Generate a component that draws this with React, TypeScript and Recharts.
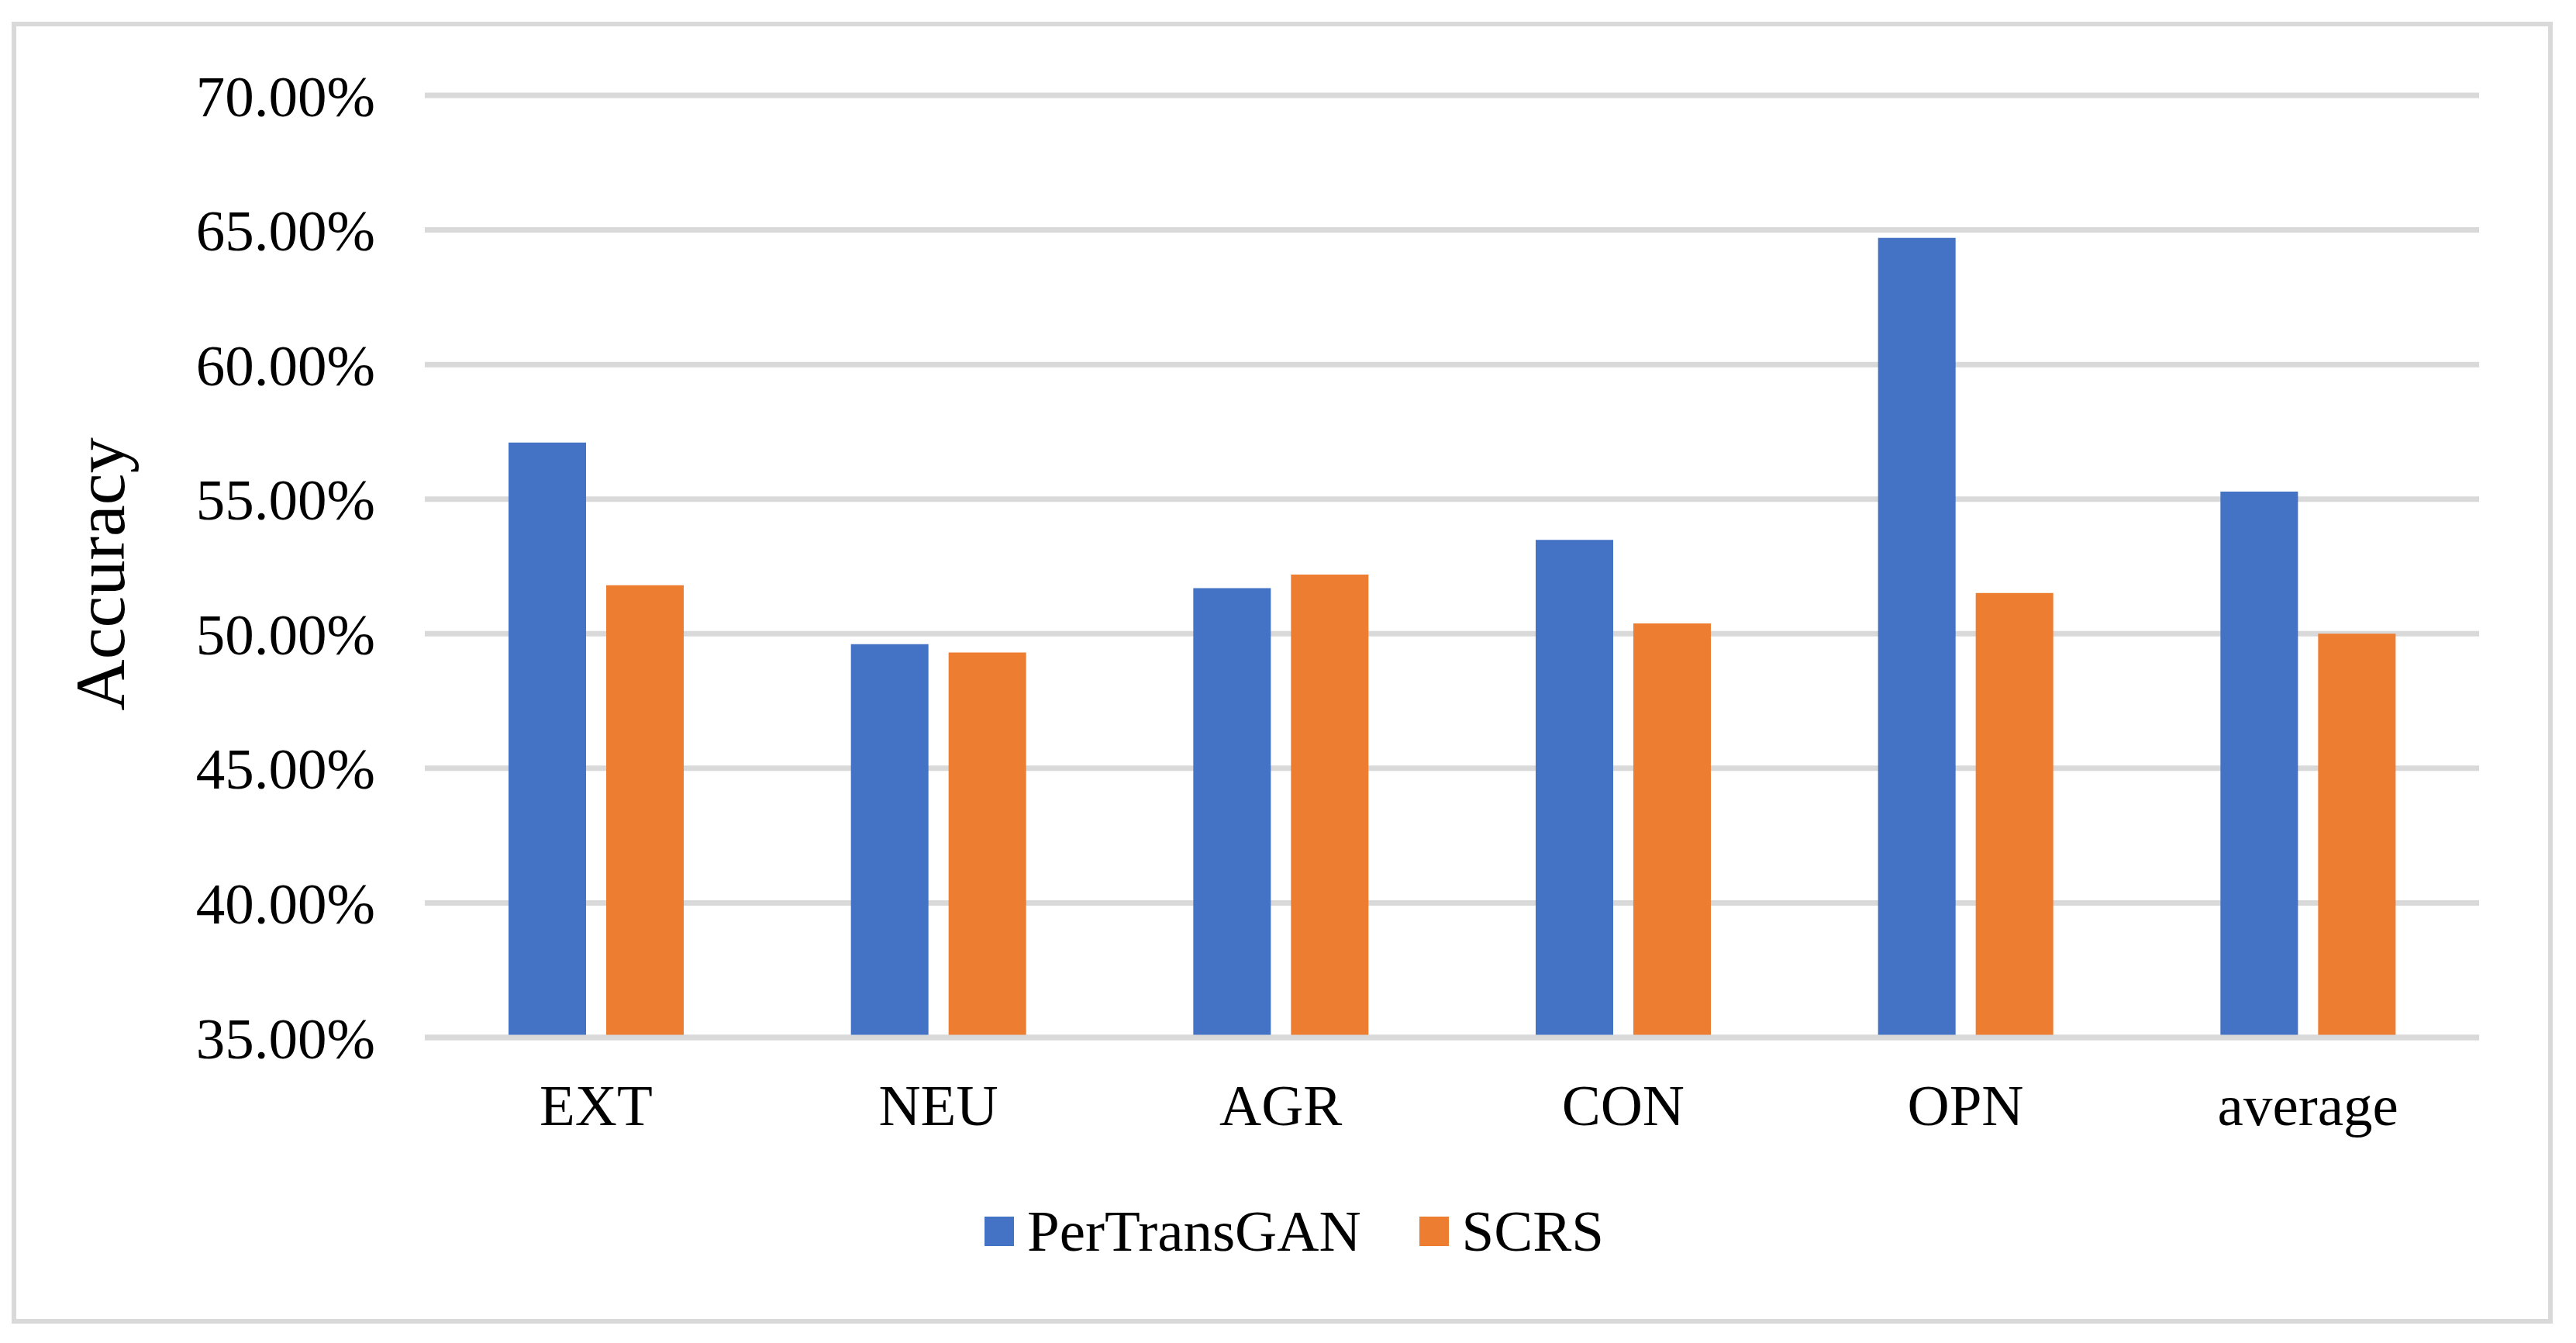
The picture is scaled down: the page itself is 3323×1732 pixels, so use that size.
import React from 'react';
import { BarChart, Bar, XAxis, YAxis, CartesianGrid, Legend, Label } from 'recharts';

const categories = ['EXT', 'NEU', 'AGR', 'CON', 'OPN', 'average'];
const perTransGAN = [57.1, 49.61, 51.69, 53.49, 64.71, 55.28];
const scrs = [51.8, 49.3, 52.2, 50.38, 51.51, 50.0];
const yTicks = [35, 40, 45, 50, 55, 60, 65, 70];
const seriesNames = ['PerTransGAN', 'SCRS'];
const seriesColors = ['#4472C4', '#ED7D31'];

const data = categories.map((c, i) => ({
  category: c,
  [seriesNames[0]]: perTransGAN[i],
  [seriesNames[1]]: scrs[i],
}));

const FONT = '"Liberation Serif", "Times New Roman", serif';
const GRID = '#d9d9d9';

const renderLegend = (props: any) => {
  const { payload } = props;
  return (
    <div
      style={{
        display: 'flex',
        alignItems: 'center',
        fontFamily: FONT,
        fontSize: 75,
        lineHeight: '86px',
        color: '#000',
        whiteSpace: 'nowrap',
      }}
    >
      {(payload || []).map((e: any, i: number) => (
        <div key={i} style={{ display: 'flex', alignItems: 'center', marginLeft: i ? 75 : 0 }}>
          <span style={{ display: 'inline-block', width: 38, height: 38, background: e.color, marginRight: 17 }} />
          <span>{e.value}</span>
        </div>
      ))}
    </div>
  );
};

export default function App() {
  return (
    <div style={{ position: 'absolute', left: 0, top: 0, width: 3323, height: 1732, background: '#fff' }}>
      <div
        style={{
          position: 'absolute',
          left: 15,
          top: 28,
          width: 3278,
          height: 1679,
          boxSizing: 'border-box',
          border: `6.5px solid ${GRID}`,
        }}
      />
      <div style={{ position: 'absolute', left: 0, top: 0 }}>
        <BarChart
          width={3323}
          height={1732}
          data={data}
          margin={{ top: 123, right: 125, bottom: 364, left: 0 }}
          barGap={26}
        >
          <CartesianGrid vertical={false} stroke={GRID} strokeWidth={7} />
          <YAxis
            type="number"
            domain={[35, 70]}
            ticks={yTicks}
            interval={0}
            width={548}
            axisLine={false}
            tickLine={false}
            tickSize={0}
            tickMargin={64}
            tickFormatter={(v: number) => `${v.toFixed(2)}%`}
            tick={{ fontFamily: FONT, fontSize: 75, fill: '#000' }}
          >
            <Label
              content={(p: any) => {
                const vb = p.viewBox || { x: 0, y: 123, width: 548, height: 1215 };
                const x = vb.x + 160;
                const y = vb.y + vb.height / 2 + 10;
                return (
                  <text
                    x={x}
                    y={y}
                    textAnchor="middle"
                    transform={`rotate(-90, ${x}, ${y})`}
                    style={{ fontFamily: FONT, fontSize: 92, fill: '#000' }}
                  >
                    Accuracy
                  </text>
                );
              }}
            />
          </YAxis>
          <Bar dataKey={seriesNames[0]} fill={seriesColors[0]} barSize={100} isAnimationActive={false} />
          <Bar dataKey={seriesNames[1]} fill={seriesColors[1]} barSize={100} isAnimationActive={false} />
          <XAxis
            dataKey="category"
            height={30}
            interval={0}
            tickLine={false}
            tickSize={0}
            tickMargin={60}
            axisLine={{ stroke: GRID, strokeWidth: 7 }}
            tick={{ fontFamily: FONT, fontSize: 75, fill: '#000' }}
          />
          <Legend
            layout="horizontal"
            verticalAlign="middle"
            align="center"
            content={renderLegend}
            wrapperStyle={{ position: 'absolute', left: 1270, top: 1545, right: 'auto', bottom: 'auto', width: 'auto', height: 'auto' }}
          />
        </BarChart>
      </div>
    </div>
  );
}
